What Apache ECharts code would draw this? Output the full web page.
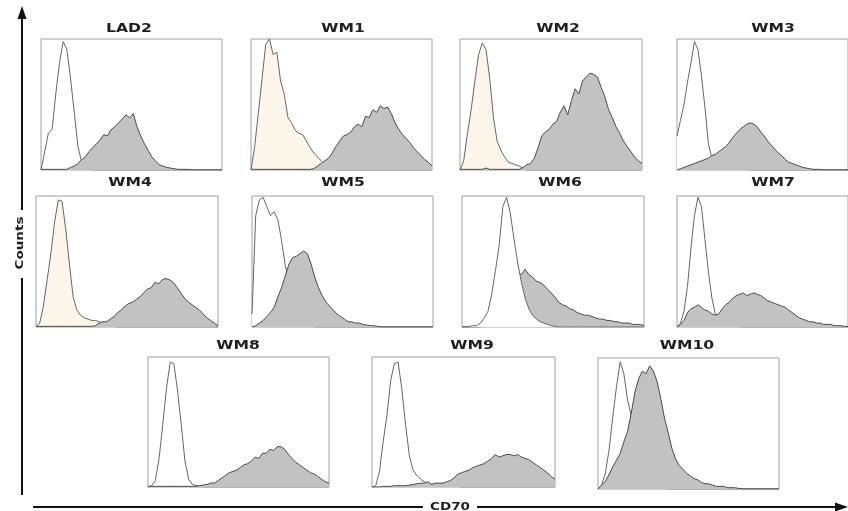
<!DOCTYPE html>
<html>
<head>
<meta charset="utf-8">
<script src="https://cdn.jsdelivr.net/npm/echarts@6/dist/echarts.min.js"></script>
<style>
  html, body { margin: 0; padding: 0; background: #fff; }
  #chart { width: 848px; height: 511px; }
</style>
</head>
<body>
<div id="chart"></div>
<script>
// panel titles
var panelNames = ['LAD2', 'WM1', 'WM2', 'WM3', 'WM4', 'WM5', 'WM6', 'WM7', 'WM8', 'WM9', 'WM10'];

// counts per CD70 channel (50 channels, % of panel max) - isotype control (open) and CD70 stain (grey)
var lad2Iso = [0,14,28,31,58,82,98,92,70,44,18,6,1,0.5,0,0,0,0,0,0,0,0,0,0,0,0,0,0,0,0,0,0,0,0,0,0,0,0,0,0,0,0,0,0,0,0,0,0,0,0];
var lad2Cd70 = [0.5,0.5,0.5,0.5,0.5,0.5,0.5,0.5,2,3,5,8,10,14,17,20,23,27,26,31,33,36,39,42,40,43,33,26,20,15,10,7,4,3,2,1.5,1,0.5,0.5,0.5,0.5,0,0,0,0,0,0,0,0,0];

var wm1Iso = [0,18,44,70,96,100,88,90,68,58,40,36,30,28,27,22,17,13,10,7,4,2,1,0,0,0,0,0,0,0,0,0,0,0,0,0,0,0,0,0,0,0,0,0,0,0,0,0,0,0];
var wm1Cd70 = [0.5,0.5,0.5,0.5,0.5,0.5,0.5,0.5,0.5,0.5,0.5,0.5,0.5,0.5,0.5,0.5,0.5,1,3,5,7,9,13,18,22,26,27,29,33,35,33,41,40,46,44,49,47,48,43,36,31,27,24,21,17,14,11,8,6,3];

var wm2Iso = [0,7,28,46,68,88,97,92,70,40,22,15,10,6,5,4,3,1,0,0,0,0,0,0,0,0,0,0,0,0,0,0,0,0,0,0,0,0,0,0,0,0,0,0,0,0,0,0,0,0];
var wm2Cd70 = [0.5,0.5,0.5,0.5,0.5,0.5,0.5,1.5,0.5,0.5,0.5,0.5,0.5,0.5,0.5,0.5,0.5,2,4,5,9,17,26,29,31,35,37,44,49,42,53,62,58,68,71,74,73,71,63,56,46,40,33,28,22,18,14,10,7,5];

var wm3Iso = [26,38,50,67,82,98,92,72,48,20,9,5,3,2,1,0.5,0.5,0.5,0.5,0.5,0.5,0,0,0,0,0,0,0,0,0,0,0,0,0,0,0,0,0,0,0,0,0,0,0,0,0,0,0,0,0];
var wm3Cd70 = [0,1,2,3,4,5,6,7,8,9,11,12,14,16,18,21,25,28,31,33,35,36,35,33,29,26,22,19,16,13,11,8,6,5,4,3,2,1.5,1,0.5,0.5,0.5,0,0,0,0,0,0,0,0];

var wm4Iso = [0,3,16,36,56,80,97,96,75,48,23,13,9,7,6,5,5,4,3,3,2,1,0,0,0,0,0,0,0,0,0,0,0,0,0,0,0,0,0,0,0,0,0,0,0,0,0,0,0,0];
var wm4Cd70 = [0.5,0.5,0.5,0.5,0.5,0.5,0.5,0.5,0.5,0.5,0.5,0.5,0.5,0.5,0.5,0.5,1,3,4,4,6,8,11,13,16,18,19,21,23,26,29,30,34,33,36,37,36,34,30,26,22,19,17,15,13,10,7,5,3,1];

var wm5Iso = [10,85,97,99,92,85,88,82,66,47,35,24,13,7,4,2,1,0,0,0,0,0,0,0,0,0,0,0,0,0,0,0,0,0,0,0,0,0,0,0,0,0,0,0,0,0,0,0,0,0];
var wm5Cd70 = [0,1,3,5,8,11,15,23,30,39,48,53,54,56,58,56,48,38,30,24,19,16,13,10,8,6,4,4,3,3,2,1.5,1,1,0.5,0,0,0,0,0,0,0,0,0,0,0,0,0,0,0];

var wm6Iso = [0,0,0.5,1,1,3,7,12,25,43,62,92,99,87,67,49,34,22,14,9,6,4,3,2,1,0.5,0,0,0,0,0,0,0,0,0,0,0,0,0,0,0,0,0,0,0,0,0,0,0,0];
var wm6Cd70 = [0,0,0,0,0,0,2,5,10,18,25,30,34,37,39,41,40,44,40,38,35,34,32,29,26,23,19,17,16,14,13,11,10,9,9,8,7,6,6,5,5,4,4,3,3,3,2,2,2,1];

var wm7Iso = [0,3,12,31,60,85,99,92,67,42,22,10,6,4,3,2,1,0.5,0,0,0,0,0,0,0,0,0,0,0,0,0,0,0,0,0,0,0,0,0,0,0,0,0,0,0,0,0,0,0,0];
var wm7Cd70 = [0,2,5,11,14,15,17,15,13,12,10,9,10,14,17,19,22,24,25,26,24,25,26,25,24,22,20,19,18,17,16,15,13,11,9,7,6,5,4,4,3,3,2,2,2,1,1,1,0.5,0.5];

var wm8Iso = [0,1,5,22,48,76,96,95,74,48,20,6,2,1,0.5,0,0,0,0,0,0,0,0,0,0,0,0,0,0,0,0,0,0,0,0,0,0,0,0,0,0,0,0,0,0,0,0,0,0,0];
var wm8Cd70 = [0.5,0.5,0.5,0.5,0.5,0.5,0.5,0.5,0.5,0.5,0.5,0.5,0.5,0.5,1,1.5,2,3,3,5,7,9,11,12,13,15,17,18,20,23,22,26,26,29,28,31,31,29,25,22,19,17,15,13,11,10,8,6,4,3];

var wm9Iso = [0,1,12,35,55,82,95,96,75,48,24,13,9,6,4,3,2,2,1,1,0.5,0.5,0.5,0.5,0,0,0,0,0,0,0,0,0,0,0,0,0,0,0,0,0,0,0,0,0,0,0,0,0,0];
var wm9Cd70 = [0,0,0,0.5,0.5,0.5,1,1,1,1,1.5,2,2.5,3,3,4,2,3,3,3,4,5,7,10,11,12,13,15,16,17,18,20,22,25,23,24,25,25,24,25,23,22,21,19,17,15,13,11,8,6];

var wm10Iso = [0,3,12,30,55,78,97,88,68,56,40,25,15,8,5,3,2,1,0.5,0,0,0,0,0,0,0,0,0,0,0,0,0,0,0,0,0,0,0,0,0,0,0,0,0,0,0,0,0,0,0];
var wm10Cd70 = [0,3,6,11,17,22,27,36,44,58,74,84,90,88,94,90,82,69,54,43,31,23,18,15,12,10,8,7,5,4,4,3,2,2,2,1,1,1,0.5,0,0,0,0,0,0,0,0,0,0,0];

var isoData = [lad2Iso, wm1Iso, wm2Iso, wm3Iso, wm4Iso, wm5Iso, wm6Iso, wm7Iso, wm8Iso, wm9Iso, wm10Iso];
var cd70Data = [lad2Cd70, wm1Cd70, wm2Cd70, wm3Cd70, wm4Cd70, wm5Cd70, wm6Cd70, wm7Cd70, wm8Cd70, wm9Cd70, wm10Cd70];

// channel index used as category axis
var channels = lad2Iso.map(function (v, i) { return i; });

// layout: [left, top, width, height] of each plot box, and title centre [x, y]
var boxes = [
  [41, 39, 181, 131], [251, 39, 181, 131], [460, 39, 182, 131], [677, 39, 182, 131],
  [36, 196, 182, 131], [252, 196, 181, 131], [462, 196, 182, 131], [677, 196, 182, 131],
  [148, 357, 181, 130], [372, 357, 183, 130], [598, 358, 181, 131]
];
var titlePos = [
  [129, 29], [343, 29], [558, 29], [773, 29],
  [130, 183], [343, 183], [560, 183], [773, 183],
  [238, 346], [472, 346], [687, 346]
];
// isotype fill: pale cream in some panels, white otherwise
var creamPanels = ['WM1', 'WM2', 'WM4'];

var chart = echarts.init(document.getElementById('chart'));

var grids = [], xAxes = [], yAxes = [], series = [], graphics = [];

panelNames.forEach(function (name, i) {
  var b = boxes[i];
  grids.push({
    left: b[0], top: b[1], width: b[2], height: b[3],
    show: true, borderColor: '#a0a0a0', borderWidth: 1, backgroundColor: 'transparent'
  });
  xAxes.push({
    type: 'category', gridIndex: i, data: channels, boundaryGap: false, show: false
  });
  yAxes.push({
    type: 'value', gridIndex: i, min: 0, max: 100, show: false
  });
  var isoOnTop = name === 'WM6';
  series.push({
    name: name + ' isotype', type: 'line', xAxisIndex: i, yAxisIndex: i,
    data: isoData[i], symbol: 'none', silent: true,
    lineStyle: { color: '#666', width: 1 },
    areaStyle: { color: creamPanels.indexOf(name) >= 0 ? '#fcf5ea' : '#ffffff', opacity: 1 },
    z: isoOnTop ? 4 : 2
  });
  series.push({
    name: name + ' CD70', type: 'line', xAxisIndex: i, yAxisIndex: i,
    data: cd70Data[i], symbol: 'none', silent: true,
    lineStyle: { color: '#4a4a4a', width: 1 },
    areaStyle: { color: '#c2c2c2', opacity: 1 },
    z: 3
  });
  graphics.push({
    type: 'text', x: titlePos[i][0], y: titlePos[i][1], scaleX: 1.3,
    style: {
      text: name, fill: '#1e1e1e', font: 'bold 12px "DejaVu Sans", sans-serif',
      textAlign: 'center', textVerticalAlign: 'middle'
    }
  });
});

var axisColor = '#111';
// Counts axis (vertical arrow, broken by the label)
graphics.push(
  { type: 'line', shape: { x1: 22, y1: 495, x2: 22, y2: 278 }, style: { stroke: axisColor, lineWidth: 2 } },
  { type: 'line', shape: { x1: 22, y1: 210, x2: 22, y2: 16 }, style: { stroke: axisColor, lineWidth: 2 } },
  { type: 'polygon', shape: { points: [[22, 6], [17.5, 19], [26.5, 19]] }, style: { fill: axisColor } },
  {
    type: 'text', x: 20, y: 243, rotation: Math.PI / 2, scaleX: 1.35,
    style: {
      text: 'Counts', fill: '#1e1e1e', font: 'bold 10px "DejaVu Sans", sans-serif',
      textAlign: 'center', textVerticalAlign: 'middle'
    }
  }
);
// CD70 axis (horizontal arrow, broken by the label)
graphics.push(
  { type: 'line', shape: { x1: 33, y1: 507, x2: 423, y2: 507 }, style: { stroke: axisColor, lineWidth: 2 } },
  { type: 'line', shape: { x1: 477, y1: 507, x2: 838, y2: 507 }, style: { stroke: axisColor, lineWidth: 2 } },
  { type: 'polygon', shape: { points: [[848, 507], [835, 502.5], [835, 511.5]] }, style: { fill: axisColor } },
  {
    type: 'text', x: 450, y: 507, scaleX: 1.35,
    style: {
      text: 'CD70', fill: '#1e1e1e', font: 'bold 10px "DejaVu Sans", sans-serif',
      textAlign: 'center', textVerticalAlign: 'middle'
    }
  }
);

chart.setOption({
  animation: false,
  backgroundColor: '#fff',
  grid: grids,
  xAxis: xAxes,
  yAxis: yAxes,
  series: series,
  graphic: graphics
});
</script>
</body>
</html>
